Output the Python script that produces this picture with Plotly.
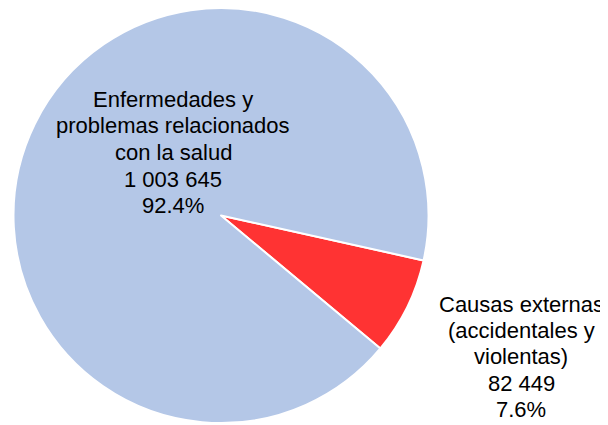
import plotly.graph_objects as go

labels = ["Causas externas (accidentales y violentas)", "Enfermedades y problemas relacionados con la salud"]
label_lines = [["Causas externas", "(accidentales y", "violentas)"],
               ["Enfermedades y", "problemas relacionados", "con la salud"]]
values = [82449, 1003645]
value_text = ["82 449", "1 003 645"]
percent_text = ["7.6%", "92.4%"]
colors = ["#FF3333", "#B4C7E7"]

W, H = 608, 425
OFF = 8  # page body margin offset
r = 207.5
cx, cy = 221 - OFF, r
FS = 22

fig = go.Figure(go.Pie(
    labels=labels, values=values, sort=False, direction="clockwise",
    rotation=102.5, textinfo="none", hoverinfo="label+value+percent",
    marker=dict(colors=colors, line=dict(color="white", width=2)),
    domain=dict(x=[(cx - r) / W, (cx + r) / W], y=[max(0, (H - cy - r) / H), min(1, (H - cy + r) / H)]),
    showlegend=False,
))

# label placement (pixel centre x, first baseline y, line spacing) in screen pixels
label_pos = [(521, 312, 26.2), (173, 107, 26.5)]
annots = []
for i in range(len(values)):
    lines = label_lines[i] + [value_text[i], percent_text[i]]
    x0, y0, dy = label_pos[i]
    for j, t in enumerate(lines):
        yb = y0 + j * dy - OFF
        annots.append(dict(text=t, x=(x0 - OFF) / W, y=1 - (yb - 7.5) / H, xref="paper", yref="paper",
                           xanchor="center", yanchor="middle", showarrow=False,
                           font=dict(family="Liberation Sans, Arial", size=FS, color="black")))

fig.update_layout(width=W, height=H, margin=dict(l=0, r=0, t=0, b=0),
                  paper_bgcolor="white", plot_bgcolor="white", annotations=annots)
fig.write_html("out.html")
